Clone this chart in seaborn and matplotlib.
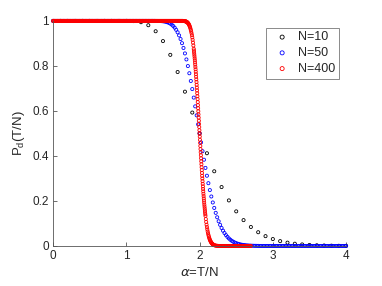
import numpy as np
import matplotlib
matplotlib.use("Agg")
import matplotlib.pyplot as plt
import seaborn as sns

# N=10 : alpha = 0, 0.1, ..., 4.0
T_10 = np.arange(0, 41)
pd_10 = [1.0] * 11 + [
    0.9990, 0.9941, 0.9807, 0.9539, 0.9102, 0.8491, 0.7728, 0.6855, 0.5927, 0.5,
    0.4119, 0.3318, 0.2617, 0.2024, 0.1537, 0.1148, 0.0843, 0.0610, 0.0436, 0.0307,
    0.0214, 0.0147, 0.0100, 0.0068, 0.0045, 0.0030, 0.0020, 0.0013, 0.0008, 0.0005,
]

# N=50 : alpha = 0, 0.02, ..., 4.0
T_50 = np.arange(0, 201)
pd_50 = [1.0] * 70 + [
    0.9998, 0.9997, 0.9996, 0.9993, 0.9988, 0.9982, 0.9972, 0.9958, 0.9939, 0.9913,
    0.9878, 0.9832, 0.9773, 0.9698, 0.9605, 0.9492, 0.9355, 0.9195, 0.9009, 0.8796,
    0.8554, 0.8287, 0.7993, 0.7673, 0.7330, 0.6971, 0.6591, 0.6202, 0.5804, 0.5402,
    0.5,
    0.4602, 0.4211, 0.3832, 0.3468, 0.3121, 0.2789, 0.2483, 0.2198, 0.1932, 0.1690,
    0.1471, 0.1274, 0.1097, 0.0939, 0.0800, 0.0679, 0.0573, 0.0481, 0.0402, 0.0334,
    0.0276, 0.0228, 0.0187, 0.0152, 0.0124, 0.0100, 0.0081, 0.0065, 0.0052, 0.0041,
    0.0033, 0.0026, 0.0020, 0.0016, 0.0013, 0.0010, 0.0008, 0.0006, 0.0005, 0.0004,
] + [0.0] * 60

# N=400 : alpha up to 2.7, finer sampling through the jump
T_400 = np.r_[0:720:4, 720:768:2, 768:832:1, 832:880:2, 880:1081:4]
pd_400 = [1.0] * 178 + [0.9995, 0.9992] + [
    # 1.80 -> 1.915 (step 0.005)
    0.9986, 0.9982, 0.9976, 0.9970, 0.9962, 0.9952, 0.9940, 0.9926, 0.9908, 0.9888,
    0.9863, 0.9834, 0.9800, 0.9760, 0.9713, 0.9661, 0.9599, 0.9530, 0.9452, 0.9365,
    0.9266, 0.9157, 0.9035, 0.8905,
    # 1.92 -> 2.0775 (step 0.0025)
    0.8760, 0.8682, 0.8602, 0.8518, 0.8433, 0.8342, 0.8251, 0.8154, 0.8057, 0.7953,
    0.7849, 0.7740, 0.7630, 0.7517, 0.7402, 0.7284, 0.7160, 0.7037, 0.6911, 0.6783,
    0.6653, 0.6525, 0.6391, 0.6255, 0.6118, 0.5983, 0.5843, 0.5702, 0.5565, 0.5422,
    0.5283, 0.5140, 0.5,
    0.4860, 0.4717, 0.4578, 0.4439, 0.4301, 0.4164, 0.4028, 0.3894, 0.3760, 0.3628,
    0.3498, 0.3369, 0.3242, 0.3117, 0.2998, 0.2877, 0.2759, 0.2647, 0.2534, 0.2426,
    0.2318, 0.2215, 0.2113, 0.2016, 0.1922, 0.1827, 0.1739, 0.1653, 0.1570, 0.1489,
    0.1412,
    # 2.08 -> 2.195 (step 0.005)
    0.1337, 0.1196, 0.1066, 0.0946, 0.0838, 0.0739, 0.0649, 0.0568, 0.0497, 0.0432,
    0.0375, 0.0323, 0.0278, 0.0239, 0.0204, 0.0173, 0.0147, 0.0124, 0.0105, 0.0088,
    0.0074, 0.0062, 0.0051, 0.0042,
    # 2.20 -> 2.70 (step 0.01)
    0.0035, 0.0024, 0.0016, 0.0010, 0.0007, 0.0004,
] + [0.0] * 45

series = [
    ("N=10", T_10 / 10, pd_10, "black"),
    ("N=50", T_50 / 50, pd_50, "blue"),
    ("N=400", T_400 / 400, pd_400, "red"),
]

sns.set_style("ticks")
plt.rcParams["font.family"] = ["Liberation Sans", "DejaVu Sans"]
plt.rcParams["mathtext.fontset"] = "dejavusans"

fig = plt.figure(figsize=(3.82, 2.86), dpi=100)
ax = fig.add_axes([0.139, 0.14, 0.767, 0.787])

for name, x, y, col in series:
    sns.scatterplot(x=x, y=y, ax=ax, marker="o", s=5, facecolor="none",
                    edgecolor=col, linewidth=0.6, label=name, clip_on=False)

ax.set_xlim(0, 4)
ax.set_ylim(0, 1)
ax.set_xticks([0, 1, 2, 3, 4])
ax.set_xticklabels(["0", "1", "2", "3", "4"])
ax.set_yticks([0, 0.2, 0.4, 0.6, 0.8, 1])
ax.set_yticklabels(["0", "0.2", "0.4", "0.6", "0.8", "1"])
ax.tick_params(direction="in", length=3, width=0.6, color="#555555",
               labelsize=8.5, labelcolor="#262626", pad=3)
for side in ["left", "bottom"]:
    ax.spines[side].set_color("#555555")
    ax.spines[side].set_linewidth(0.6)
sns.despine(ax=ax)

ax.set_xlabel(r"$\alpha$=T/N", fontsize=9.5, color="#262626", labelpad=3)
ax.set_ylabel(r"P$_\mathregular{d}$(T/N)", fontsize=9.5, color="#262626", labelpad=4)

leg = ax.legend(loc="upper right", bbox_to_anchor=(0.975, 0.97), fontsize=9,
                frameon=True, fancybox=False, framealpha=1, edgecolor="#777777",
                borderpad=0.3, handletextpad=0.25, labelspacing=0.3, markerscale=1.3,
                handlelength=2.0, borderaxespad=0)
leg.get_frame().set_linewidth(0.6)

fig.savefig("out.png", dpi=100)
